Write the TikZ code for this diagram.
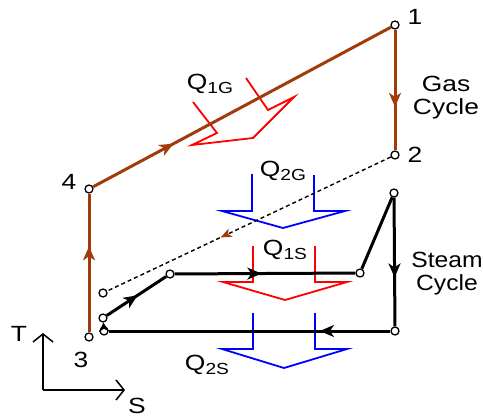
\documentclass[tikz,border=0pt]{standalone}
\usepackage{graphicx}
\usepackage{fontspec}
\setmainfont{Liberation Sans}
\usetikzlibrary{arrows.meta,decorations.markings}
\definecolor{gasbrown}{RGB}{160,60,10}
\newcommand{\wtxt}[1]{\scalebox{1.2}[1]{#1}}
\newcommand{\qlab}[1]{\wtxt{Q\raisebox{-4pt}{\fontsize{16}{16}\selectfont #1}}}

\begin{document}
\begin{tikzpicture}[x=1pt,y=-1pt,
	pt/.style={circle,draw=black,fill=white,line width=1.3pt,minimum size=8pt,inner sep=0pt},
	lbl/.style={font=\fontsize{22}{23}\selectfont,inner sep=0pt,align=center},
	gas/.style={color=gasbrown,line width=3pt},
	steam/.style={color=black,line width=3pt},
	heat/.style={line width=1.8pt,line join=miter},
	midarrow/.style={postaction={decorate},decoration={markings,mark=at position #1 with {\arrow{Stealth[length=14pt,width=12pt,inset=4pt]}}}}]
	\useasboundingbox (0,0) rectangle (483,418);
	% heat flows
	\draw[heat,red] (193,102) -- (217,133) -- (192,145) -- (253,138) -- (294,97) -- (268,110) -- (246,78);
	\draw[heat,blue] (252,174) -- (252,211) -- (222,211) -- (283,228) -- (345,211) -- (314,211) -- (314,175);
	\draw[heat,red] (253,246) -- (253,282) -- (223,282) -- (285,300) -- (347,282) -- (315,282) -- (315,246);
	\draw[heat,blue] (253,313) -- (253,349) -- (222,349) -- (284,368) -- (347,349) -- (315,349) -- (315,313);
	% state points
	\node[pt] (g1) at (395,25) {};
	\node[pt] (g2) at (395,155) {};
	\node[pt] (g3) at (89,337) {};
	\node[pt] (g4) at (89,189) {};
	\node[pt] (s0) at (103,293) {};
	\node[pt] (s1) at (103,318) {};
	\node[pt] (s2) at (170,274) {};
	\node[pt] (s3) at (360,273) {};
	\node[pt] (s4) at (394,193) {};
	\node[pt] (s5) at (395,331) {};
	\node[pt] (s6) at (104,331) {};
	% gas cycle
	\draw[gas,midarrow=0.62] (g3) -- (g4);
	\draw[gas,midarrow=0.27] (g4) -- (g1);
	\draw[gas,midarrow=0.64] (g1) -- (g2);
	\draw[line width=1.4pt,dash pattern=on 4pt off 3pt,postaction={decorate},
		decoration={markings,mark=at position 0.6 with {\arrow[gasbrown]{Stealth[length=11pt,width=9pt,inset=3pt]}}}] (g2) -- (s0);
	% steam cycle
	\draw[steam,-{Stealth[length=9pt,width=10pt]}] (s6) -- (s1);
	\draw[steam,midarrow=0.52] (s1) -- (s2);
	\draw[steam,midarrow=0.48] (s2) -- (s3);
	\draw[steam] (s3) -- (s4);
	\draw[steam,midarrow=0.62] (s4) -- (s5);
	\draw[steam,midarrow=0.25] (s5) -- (s6);
	% axes
	\coordinate (o) at (43,390);
	\coordinate (tax) at (43,333);
	\coordinate (sax) at (125,390);
	\draw[line width=1.5pt,-{Straight Barb[length=8pt,width=20pt]}] (o) -- (tax);
	\draw[line width=1.5pt,-{Straight Barb[length=8pt,width=20pt]}] (o) -- (sax);
	% labels
	\node[lbl] (n1) at (415,17) {\wtxt{1}};
	\node[lbl] (n2) at (415,155) {\wtxt{2}};
	\node[lbl] (n3) at (81,360) {\wtxt{3}};
	\node[lbl] (n4) at (69,182) {\wtxt{4}};
	\node[lbl] (tl) at (19,334) {\wtxt{T}};
	\node[lbl] (sl) at (137,406) {\wtxt{S}};
	\node[lbl] (q1g) at (210,84) {\qlab{1G}};
	\node[lbl] (q2g) at (283,171) {\qlab{2G}};
	\node[lbl] (q1s) at (285,250) {\qlab{1S}};
	\node[lbl] (q2s) at (207,365) {\qlab{2S}};
	\node[lbl] (gasc) at (446,98) {\wtxt{Gas}\\\wtxt{Cycle}};
	\node[lbl] (stmc) at (447,274) {\scalebox{1.12}[1]{Steam}\\\scalebox{1.12}[1]{Cycle}};
\end{tikzpicture}
\end{document}
